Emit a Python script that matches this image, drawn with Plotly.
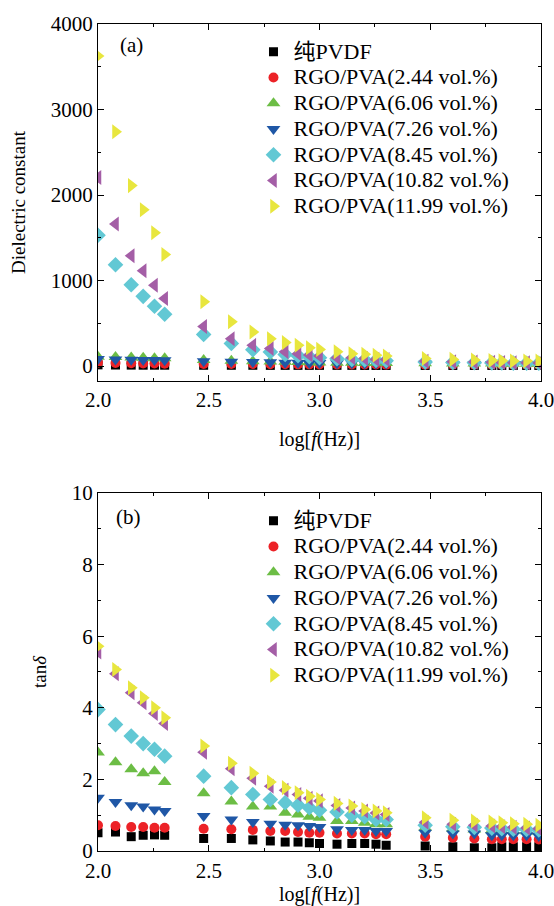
import plotly.graph_objects as go

# log10 of frequency (Hz)
log_f = [2.0, 2.079, 2.150, 2.204, 2.255, 2.301, 2.477, 2.602, 2.699, 2.778, 2.845, 2.903, 2.954,
         3.0, 3.079, 3.146, 3.204, 3.255, 3.301, 3.477, 3.602, 3.699, 3.778, 3.823, 3.875, 3.935, 3.99]

series_names = ["纯PVDF", "RGO/PVA(2.44 vol.%)", "RGO/PVA(6.06 vol.%)", "RGO/PVA(7.26 vol.%)",
                "RGO/PVA(8.45 vol.%)", "RGO/PVA(10.82 vol.%)", "RGO/PVA(11.99 vol.%)"]

# Panel (a): dielectric constant
eps_pvdf = [14, 12, 11, 10, 10, 10, 9, 9, 9, 8, 8, 8, 8, 8, 8, 8, 7, 7, 7, 7, 7, 7, 7, 7, 7, 7, 7]
eps_244 = [40, 35, 32, 30, 29, 28, 25, 24, 23, 22, 21, 20, 20, 19, 19, 18, 18, 18, 17, 17, 16, 16, 16, 16, 15, 15, 15]
eps_606 = [110, 105, 100, 96, 92, 90, 70, 62, 56, 52, 49, 46, 44, 42, 40, 38, 37, 36, 35, 33, 31, 30, 29, 28, 28, 27, 27]
eps_726 = [82, 78, 75, 72, 70, 68, 55, 50, 46, 43, 40, 38, 37, 35, 34, 32, 31, 30, 29, 27, 25, 24, 23, 23, 22, 22, 21]
eps_845 = [1530, 1185, 950, 815, 700, 605, 370, 265, 190, 165, 135, 120, 108, 98, 86, 78, 72, 66, 62, 46, 42, 39, 37, 35, 34, 33, 32]
eps_1082 = [2205, 1660, 1290, 1115, 944, 790, 463, 320, 242, 204, 168, 145, 129, 117, 98, 96, 87, 78, 76, 56, 50, 46, 43, 41, 39, 38, 37]
eps_1199 = [3626, 2740, 2110, 1828, 1560, 1305, 752, 518, 398, 320, 274, 242, 215, 195, 168, 145, 137, 125, 117, 87, 78, 70, 65, 62, 60, 58, 58]

# Panel (b): tan delta
tan_pvdf = [0.51, 0.53, 0.40, 0.44, 0.45, 0.44, 0.35, 0.35, 0.31, 0.28, 0.25, 0.25, 0.23, 0.21, 0.19, 0.21, 0.21, 0.19, 0.16, 0.14, 0.12, 0.09, 0.09, 0.12, 0.12, 0.12, 0.12]
tan_244 = [0.72, 0.70, 0.67, 0.67, 0.65, 0.65, 0.62, 0.61, 0.59, 0.56, 0.56, 0.53, 0.51, 0.51, 0.49, 0.49, 0.49, 0.47, 0.47, 0.40, 0.37, 0.35, 0.33, 0.33, 0.33, 0.33, 0.32]
tan_606 = [2.75, 2.48, 2.28, 2.17, 2.23, 1.93, 1.61, 1.38, 1.24, 1.24, 1.07, 1.02, 0.96, 0.93, 0.84, 0.84, 0.79, 0.75, 0.75, 0.65, 0.62, 0.60, 0.58, 0.57, 0.56, 0.55, 0.54]
tan_726 = [1.49, 1.37, 1.28, 1.24, 1.16, 1.12, 0.98, 0.88, 0.81, 0.76, 0.73, 0.72, 0.70, 0.67, 0.61, 0.59, 0.59, 0.56, 0.56, 0.51, 0.49, 0.49, 0.44, 0.44, 0.44, 0.44, 0.42]
tan_845 = [3.95, 3.53, 3.21, 3.00, 2.84, 2.65, 2.09, 1.77, 1.58, 1.44, 1.35, 1.28, 1.21, 1.14, 1.09, 1.00, 0.96, 0.88, 0.88, 0.72, 0.68, 0.66, 0.64, 0.62, 0.61, 0.60, 0.59]
tan_1082 = [5.56, 4.95, 4.42, 4.14, 3.84, 3.56, 2.76, 2.30, 2.03, 1.81, 1.70, 1.58, 1.47, 1.40, 1.27, 1.20, 1.12, 1.06, 1.02, 0.80, 0.75, 0.72, 0.70, 0.68, 0.66, 0.64, 0.62]
tan_1199 = [5.72, 5.07, 4.56, 4.28, 4.00, 3.72, 2.93, 2.45, 2.17, 1.93, 1.77, 1.63, 1.53, 1.44, 1.33, 1.26, 1.16, 1.12, 1.07, 0.93, 0.86, 0.84, 0.81, 0.79, 0.76, 0.75, 0.72]

x_tickvals = [2.0, 2.5, 3.0, 3.5, 4.0]
x_ticktext = ["2.0", "2.5", "3.0", "3.5", "4.0"]
eps_tickvals = [0, 1000, 2000, 3000, 4000]
tan_tickvals = [0, 2, 4, 6, 8, 10]

eps_all = [eps_pvdf, eps_244, eps_606, eps_726, eps_845, eps_1082, eps_1199]
tan_all = [tan_pvdf, tan_244, tan_606, tan_726, tan_845, tan_1082, tan_1199]

colors = ["#000000", "#ec2227", "#6cbd45", "#1f57a6", "#62c8d4", "#a45ea6", "#e8e63e"]
symbols = ["square", "circle", "triangle-up", "triangle-down", "diamond", "triangle-left", "triangle-right"]
sizes = [9, 10, 12, 12, 12, 13, 13]

FONT = "Liberation Serif, 'Noto Sans CJK SC', serif"
XTITLE = "log[<i>f</i>(Hz)]"


def legend_label(name):
    return '<span style="font-size:22px">' + name + '</span>'


fig = go.Figure()
for i in range(7):
    fig.add_trace(go.Scatter(x=log_f, y=eps_all[i], mode="markers", name=legend_label(series_names[i]),
                             marker=dict(symbol=symbols[i], color=colors[i], size=sizes[i], line=dict(width=0)),
                             xaxis="x", yaxis="y", legend="legend"))
for i in range(7):
    fig.add_trace(go.Scatter(x=log_f, y=tan_all[i], mode="markers", name=legend_label(series_names[i]),
                             marker=dict(symbol=symbols[i], color=colors[i], size=sizes[i], line=dict(width=0)),
                             xaxis="x2", yaxis="y2", legend="legend2"))

axis_common = dict(showline=True, linecolor="black", linewidth=1.2, mirror="allticks",
                   ticks="inside", ticklen=6, tickwidth=1.2, tickcolor="black",
                   showgrid=False, zeroline=False, automargin=False,
                   tickfont=dict(family=FONT, size=21, color="black"))

minor_x = dict(dtick=0.25, ticks="inside", ticklen=3, tickcolor="black", tickwidth=1.2)

fig.update_layout(
    width=554, height=906,
    margin=dict(l=98, r=13, t=24, b=55),
    paper_bgcolor="white", plot_bgcolor="white",
    font=dict(family=FONT, size=19, color="black"),
    xaxis=dict(domain=[0, 1], anchor="y", range=[2.0, 4.0], tickvals=x_tickvals, ticktext=x_ticktext,
               minor=minor_x, ticklabeloverflow="allow",
               title=dict(text=XTITLE, font=dict(family=FONT, size=20, color="black"), standoff=20),
               **axis_common),
    yaxis=dict(domain=[0.5683, 1], anchor="x", range=[-175, 4000], tickvals=eps_tickvals,
               minor=dict(dtick=500, tick0=0, ticks="inside", ticklen=3, tickcolor="black", tickwidth=1.2),
               title=dict(text="Dielectric constant", font=dict(family=FONT, size=19, color="black"), standoff=20),
               **axis_common),
    xaxis2=dict(domain=[0, 1], anchor="y2", range=[2.0, 4.0], tickvals=x_tickvals, ticktext=x_ticktext,
                minor=minor_x, ticklabeloverflow="allow", ticklabelstandoff=1,
                **axis_common),
    yaxis2=dict(domain=[0, 0.4329], anchor="x2", range=[0, 10], tickvals=tan_tickvals,
                minor=dict(dtick=1, tick0=0, ticks="inside", ticklen=3, tickcolor="black", tickwidth=1.2),
                title=dict(text="tan<i>δ</i>", font=dict(family=FONT, size=19, color="black"), standoff=20),
                **axis_common),
    legend=dict(x=0.351, y=0.988, xanchor="left", yanchor="top", bgcolor="rgba(0,0,0,0)",
                font=dict(family=FONT, size=17.5, color="black"), tracegroupgap=0, itemwidth=30),
    legend2=dict(x=0.351, y=0.421, xanchor="left", yanchor="top", bgcolor="rgba(0,0,0,0)",
                 font=dict(family=FONT, size=17.5, color="black"), tracegroupgap=0, itemwidth=30),
    showlegend=True,
    annotations=[
        dict(text="(a)", x=0.0745, y=0.9746, xref="paper", yref="paper", showarrow=False,
             xanchor="center", yanchor="middle", font=dict(family=FONT, size=21, color="black")),
        dict(text="(b)", x=0.068, y=0.4042, xref="paper", yref="paper", showarrow=False,
             xanchor="center", yanchor="middle", font=dict(family=FONT, size=21, color="black")),
        dict(text=XTITLE, x=0.5, y=-0.0525, xref="paper", yref="paper", showarrow=False,
             xanchor="center", yanchor="middle", font=dict(family=FONT, size=20, color="black")),
    ],
)

fig.write_html("out.html", config={"displayModeBar": False},
               post_script="document.body.style.margin='0';document.body.style.overflow='hidden';")
